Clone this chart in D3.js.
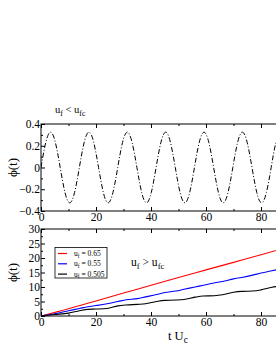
<!DOCTYPE html>
<html>
<head>
<meta charset="utf-8">
<script src="https://d3js.org/d3.v7.min.js"></script>
<style>
body { margin: 0; background: #fff; }
svg text { font-family: "Liberation Serif", "DejaVu Serif", serif; fill: #000; }
</style>
</head>
<body>
<script type="text/javascript">
// upper panel: phi(t) for u_f < u_fc
var osc_t = [0, 1.74, 3.49, 5.23, 6.98, 8.72, 10.46, 12.21, 13.95, 15.69, 17.44, 19.18, 20.93, 22.67, 24.41,
  26.16, 27.9, 29.64, 31.39, 33.13, 34.88, 36.62, 38.36, 40.11, 41.85, 43.59, 45.34, 47.08, 48.83, 50.57,
  52.31, 54.06, 55.8, 57.54, 59.29, 61.03, 62.78, 64.52, 66.26, 68.01, 69.75, 71.49, 73.24, 74.98, 76.73,
  78.47, 80.21, 81.96, 83.7, 85.44, 87.19];
var osc_phi = [0, 0.23, 0.325, 0.23, 0, -0.23, -0.325, -0.23, 0, 0.23, 0.325, 0.23, 0, -0.23, -0.325,
  -0.23, 0, 0.23, 0.325, 0.23, 0, -0.23, -0.325, -0.23, 0, 0.23, 0.325, 0.23, 0, -0.23,
  -0.325, -0.23, 0, 0.23, 0.325, 0.23, 0, -0.23, -0.325, -0.23, 0, 0.23, 0.325, 0.23, 0,
  -0.23, -0.325, -0.23, 0, 0.23, 0.325];

// lower panel: phi(t) for u_f > u_fc
var red_t = [0, 10, 20, 30, 40, 50, 60, 70, 80, 88];
var red_phi = [0, 2.5, 5.2, 7.9, 10.6, 13.3, 15.9, 18.5, 21.1, 23.3];
var run_t = [0, 5, 10, 14, 17, 20, 24, 28, 31, 35, 38, 42, 45, 49, 52, 56, 59, 63, 66, 70, 73, 77, 80, 84, 88];
var blue_phi = [0, 0.8, 1.8, 2.6, 3.2, 3.6, 4.2, 5.0, 5.6, 6.0, 6.6, 7.4, 8.1, 8.6, 9.2, 10.0, 10.6, 11.4,
  11.9, 12.8, 13.3, 14.1, 14.8, 15.6, 16.4];
var black_phi = [0, 0.5, 1.0, 1.8, 2.3, 2.4, 2.6, 3.5, 3.8, 4.0, 4.2, 5.0, 5.4, 5.5, 5.7, 6.5, 6.9, 7.0,
  7.3, 8.2, 8.5, 8.6, 9.0, 9.9, 10.4];

var legendLabels = ["0.65", "0.55", "0.505"];
var legendColors = ["#ff0000", "#0000ff", "#000000"];

var topTicks = [-0.4, -0.2, 0, 0.2, 0.4];
var botTicks = [0, 5, 10, 15, 20, 25, 30];

var width = 276, height = 358;
var left = 41;

var svg = d3.select("body").append("svg")
  .attr("width", width)
  .attr("height", height);

var x = d3.scaleLinear().domain([0, 90]).range([left, left + 90 * 2.75]);
var yTop = d3.scaleLinear().domain([-0.4, 0.4]).range([211, 124]);
var yBot = d3.scaleLinear().domain([0, 30]).range([316, 229]);

var clipW = width - left;
svg.append("clipPath").attr("id", "cTop").append("rect")
  .attr("x", left).attr("y", 124).attr("width", clipW).attr("height", 87);
svg.append("clipPath").attr("id", "cBot").append("rect")
  .attr("x", left).attr("y", 229).attr("width", clipW).attr("height", 87);

function drawFrame(y, yMajor, yFmt) {
  var g = svg.append("g");
  var x0 = x.range()[0], x1 = x.range()[1];
  var y0 = y.range()[0], y1 = y.range()[1];

  // frame
  g.append("rect")
    .attr("x", x0).attr("y", y1)
    .attr("width", x1 - x0).attr("height", y0 - y1)
    .attr("fill", "none").attr("stroke", "#000").attr("stroke-width", 1);

  // axes with inward ticks
  var bottom = g.append("g").attr("transform", "translate(0," + y0 + ")")
    .call(d3.axisBottom(x).tickValues(d3.range(0, 91, 20)).tickSize(-4).tickFormat(d3.format("d")));
  g.append("g").attr("transform", "translate(0," + y0 + ")")
    .call(d3.axisBottom(x).tickValues(d3.range(10, 91, 20)).tickSize(-2).tickFormat(""));
  g.append("g").attr("transform", "translate(0," + y1 + ")")
    .call(d3.axisTop(x).tickValues(d3.range(0, 91, 20)).tickSize(-4).tickFormat(""));
  g.append("g").attr("transform", "translate(0," + y1 + ")")
    .call(d3.axisTop(x).tickValues(d3.range(10, 91, 20)).tickSize(-2).tickFormat(""));
  g.append("g").attr("transform", "translate(" + x0 + ",0)")
    .call(d3.axisLeft(y).tickValues(yMajor).tickSize(-4).tickPadding(1).tickFormat(yFmt));
  var minors = [];
  for (var i = 0; i < yMajor.length - 1; i++) minors.push((yMajor[i] + yMajor[i + 1]) / 2);
  g.append("g").attr("transform", "translate(" + x0 + ",0)")
    .call(d3.axisLeft(y).tickValues(minors).tickSize(-2).tickFormat(""));

  g.selectAll(".domain").remove();
  g.selectAll(".tick line").attr("stroke", "#000");
  g.selectAll(".tick text")
    .style("font-family", "'Liberation Serif', serif")
    .style("font-size", "11.5px")
    .attr("fill", "#000");
  bottom.selectAll(".tick text").attr("y", 2);
  return g;
}

drawFrame(yTop, topTicks, function(d) { return d === 0 ? "0" : d3.format(".1f")(d); });
drawFrame(yBot, botTicks, d3.format("d"));

// upper curve
var oscData = osc_t.map(function(t, i) { return [t, osc_phi[i]]; });
svg.append("path")
  .datum(oscData)
  .attr("clip-path", "url(#cTop)")
  .attr("d", d3.line().x(d => x(d[0])).y(d => yTop(d[1])).curve(d3.curveNatural))
  .attr("fill", "none")
  .attr("stroke", "#000")
  .attr("stroke-width", 1)
  .attr("stroke-dasharray", "5,2,1,2");

// lower curves
var series = [
  { t: red_t, v: red_phi, c: legendColors[0] },
  { t: run_t, v: blue_phi, c: legendColors[1] },
  { t: run_t, v: black_phi, c: legendColors[2] }
];
var lineBot = d3.line().x(d => x(d[0])).y(d => yBot(d[1])).curve(d3.curveMonotoneX);
series.forEach(function(s) {
  svg.append("path")
    .datum(s.t.map(function(t, i) { return [t, s.v[i]]; }))
    .attr("clip-path", "url(#cBot)")
    .attr("d", lineBot)
    .attr("fill", "none")
    .attr("stroke", s.c)
    .attr("stroke-width", 1.1);
});

// legend
svg.append("rect")
  .attr("x", 55).attr("y", 247.5).attr("width", 52).attr("height", 30.5)
  .attr("fill", "#fff").attr("stroke", "#000").attr("stroke-width", 0.8);
legendLabels.forEach(function(lab, i) {
  var ly = 253.5 + i * 10.3;
  svg.append("line")
    .attr("x1", 58).attr("x2", 67).attr("y1", ly).attr("y2", ly)
    .attr("stroke", legendColors[i]).attr("stroke-width", 1.2);
  var t = svg.append("text").attr("x", 74).attr("y", ly + 2.5).style("font-size", "7.5px");
  t.append("tspan").text("u");
  t.append("tspan").attr("dy", 1.8).style("font-size", "5.5px").text("f");
  t.append("tspan").attr("dy", -1.8).text(" = " + lab);
});

// annotations
function subLabel(xp, yp, size, main, sub, rest, sub2) {
  var t = svg.append("text").attr("x", xp).attr("y", yp).style("font-size", size + "px");
  t.append("tspan").text(main);
  t.append("tspan").attr("dy", size * 0.25).style("font-size", (size * 0.75) + "px").text(sub);
  if (rest) {
    t.append("tspan").attr("dy", -size * 0.25).text(rest);
    t.append("tspan").attr("dy", size * 0.25).style("font-size", (size * 0.75) + "px").text(sub2);
  }
  return t;
}
subLabel(55, 113, 10.5, "u", "f", " < u", "fc");
subLabel(131, 266, 11.5, "u", "f", " > u", "fc");
subLabel(168, 340, 12.5, "t U", "c");

// y axis titles
[167.5, 272.5].forEach(function(cy) {
  svg.append("text")
    .attr("transform", "translate(17," + cy + ") rotate(-90)")
    .attr("text-anchor", "middle")
    .style("font-size", "13px")
    .text("\u03d5(t)");
});
</script>
</body>
</html>
